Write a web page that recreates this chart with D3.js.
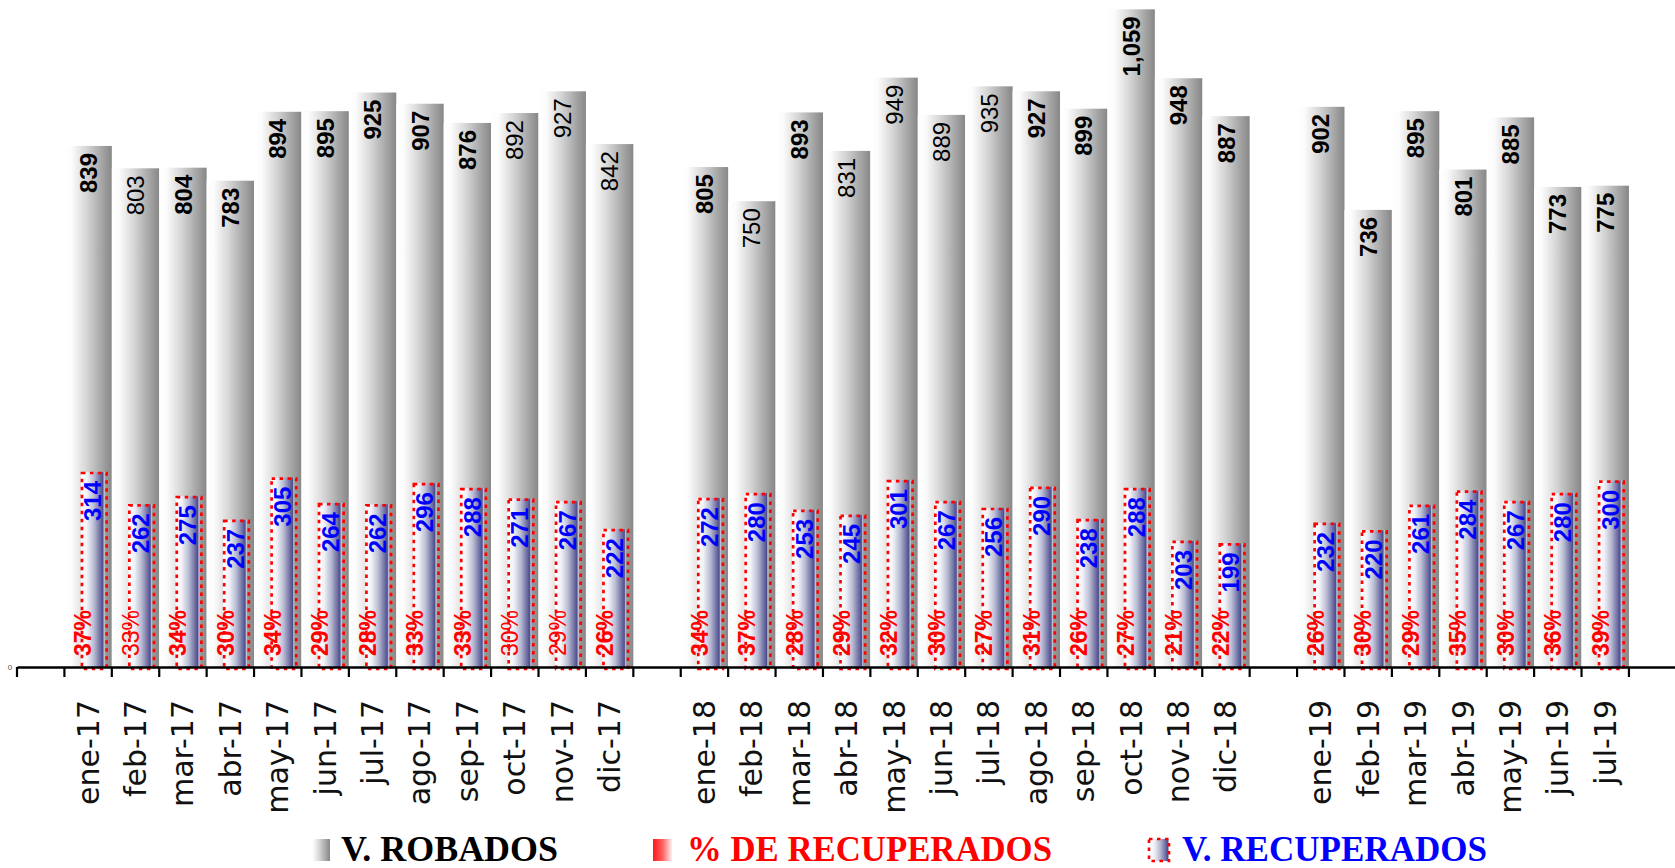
<!DOCTYPE html>
<html><head><meta charset="utf-8">
<script src="https://cdn.jsdelivr.net/npm/d3@7"></script>
<style>body{margin:0;background:#fff}svg{display:block}</style>
</head><body><svg id="c" width="1675" height="868"></svg>
<script>
// ---- data ----
const categories = ["",
  "ene-17","feb-17","mar-17","abr-17","may-17","jun-17","jul-17","ago-17","sep-17","oct-17","nov-17","dic-17","",
  "ene-18","feb-18","mar-18","abr-18","may-18","jun-18","jul-18","ago-18","sep-18","oct-18","nov-18","dic-18","",
  "ene-19","feb-19","mar-19","abr-19","may-19","jun-19","jul-19",""];
const robados = [null,
  839,803,804,783,894,895,925,907,876,892,927,842,null,
  805,750,893,831,949,889,935,927,899,1059,948,887,null,
  902,736,895,801,885,773,775,null];
const recuperados = [null,
  314,262,275,237,305,264,262,296,288,271,267,222,null,
  272,280,253,245,301,267,256,290,238,288,203,199,null,
  232,220,261,284,267,280,300,null];
const porcentaje = [null,
  37,33,34,30,34,29,28,33,33,30,29,26,null,
  34,37,28,29,32,30,27,31,26,27,21,22,null,
  26,30,29,35,30,36,39,null];
const legendLabels = ["V. ROBADOS","% DE RECUPERADOS","V. RECUPERADOS"];
const yTickLabels = [0];

// ---- style config (not data) ----
const regularRobados = new Set(["feb-17","oct-17","nov-17","dic-17","feb-18","abr-18","may-18","jun-18","jul-18"]);
const regularPct = new Set(["feb-17","oct-17","nov-17"]);
const SANS = "'Liberation Sans', Arial, Helvetica, sans-serif";

const svg = d3.select("#c");
const n = categories.length;
const x0 = 17, bw0 = 47.41;
const x = d3.scaleBand().domain(d3.range(n)).range([x0, x0 + n * bw0]).padding(0);
const y = d3.scaleLinear().domain([0, 1074]).range([667, 0]);
const bw = x.bandwidth();

const defs = svg.append("defs");
function grad(id, stops) {
  const g = defs.append("linearGradient").attr("id", id).attr("x1", 0).attr("x2", 1).attr("y1", 0).attr("y2", 0);
  stops.forEach(s => g.append("stop").attr("offset", s[0]).attr("stop-color", s[1]));
}
grad("gGrey", [[0,"#ffffff"],[0.15,"#fcfcfc"],[0.45,"#d8d8d8"],[0.8,"#a4a4a4"],[1,"#878787"]]);
grad("gBlue", [[0,"#ffffff"],[0.25,"#f2f3f8"],[0.55,"#b9bcd3"],[0.8,"#7475a6"],[0.93,"#4e4e8e"],[1,"#dfe0ee"]]);
grad("gRed", [[0,"#ff1a1a"],[0.5,"#ff6060"],[1,"#fff0f0"]]);

const idx = d3.range(n).filter(i => robados[i] != null);

// grey bars (V. ROBADOS)
svg.append("g").selectAll("rect").data(idx).join("rect")
  .attr("x", i => x(i)).attr("width", bw)
  .attr("y", i => y(robados[i])).attr("height", i => y(0) - y(robados[i]))
  .attr("fill", "url(#gGrey)");

// blue bars (V. RECUPERADOS)
svg.append("g").selectAll("rect").data(idx).join("rect")
  .attr("x", i => x(i) + 0.35 * bw).attr("width", 0.495 * bw)
  .attr("y", i => y(recuperados[i])).attr("height", i => y(0) - y(recuperados[i]))
  .attr("fill", "url(#gBlue)");

// grey value labels
const fmt = d3.format(",");
svg.append("g").selectAll("text").data(idx).join("text")
  .attr("transform", i => `translate(${x(i) + bw / 2},${y(robados[i]) + 7}) rotate(-90)`)
  .attr("dy", "0.36em").attr("text-anchor", "end")
  .style("font-family", SANS).style("font-size", "24px")
  .style("font-weight", i => regularRobados.has(categories[i]) ? "normal" : "bold")
  .style("fill", "#000").text(i => fmt(robados[i]));

// % labels
svg.append("g").selectAll("text").data(idx).join("text")
  .attr("transform", i => `translate(${x(i) + 0.395 * bw},${y(0) - 11}) rotate(-90)`)
  .attr("dy", "0.36em").attr("text-anchor", "start")
  .style("font-family", SANS).style("font-size", "23px")
  .style("font-weight", i => regularPct.has(categories[i]) ? "normal" : "bold")
  .style("fill", "#ff0000").text(i => porcentaje[i] + "%");

// blue value labels
svg.append("g").selectAll("text").data(idx).join("text")
  .attr("transform", i => `translate(${x(i) + 0.6 * bw},${y(recuperados[i]) + 9}) rotate(-90)`)
  .attr("dy", "0.36em").attr("text-anchor", "end")
  .style("font-family", SANS).style("font-size", "24px").style("font-weight", "bold")
  .style("fill", "#0000ff").text(i => recuperados[i]);

// red dotted borders
svg.append("g").selectAll("rect").data(idx).join("rect")
  .attr("x", i => x(i) + 0.37 * bw).attr("width", 0.52 * bw)
  .attr("y", i => y(recuperados[i]) + 1).attr("height", i => y(0) - y(recuperados[i]) + 1)
  .attr("fill", "none").attr("stroke", "#ff0000").attr("stroke-width", 2.7)
  .attr("stroke-dasharray", "3.5,4.5");

// x axis
const ax = svg.append("g").attr("transform", `translate(0,${y(0)})`)
  .call(d3.axisBottom(x).tickSize(0).tickSizeOuter(0).tickFormat(i => categories[i]));
ax.attr("font-size", null).attr("font-family", null);
ax.select(".domain").attr("stroke", "#000").attr("stroke-width", 2.6);
ax.selectAll(".tick text")
  .attr("transform", "rotate(-90)").attr("x", -33).attr("y", 0).attr("dy", "0.35em")
  .style("text-anchor", "end")
  .style("font-family", "'DejaVu Sans', Verdana, sans-serif").style("font-size", "30px")
  .style("fill", "#111");
// boundary ticks
ax.append("g").selectAll("line").data(d3.range(n)).join("line")
  .attr("x1", i => x(i)).attr("x2", i => x(i)).attr("y1", 0).attr("y2", 10)
  .attr("stroke", "#000").attr("stroke-width", 2.2);

// y axis tick label
svg.append("g").selectAll("text").data(yTickLabels).join("text")
  .attr("x", 10).attr("y", d => y(d) + 3).attr("text-anchor", "middle")
  .style("font-family", SANS).style("font-size", "8px")
  .style("fill", "#555").text(d => d);

// legend
const leg = svg.append("g");
const swY = 839, swH = 22, baseY = 861;
const legendItems = [
  {sx: 310, sw: 20, fill: "url(#gGrey)", tx: 341, tl: 217, color: "#000"},
  {sx: 653, sw: 19, fill: "url(#gRed)", tx: 687, tl: 365, color: "#ff0000"},
  {sx: 1149, sw: 20, fill: "url(#gBlue)", tx: 1182, tl: 305, color: "#0000ff", dotted: true}
];
legendItems.forEach((it, k) => {
  leg.append("rect").attr("x", it.sx).attr("y", swY).attr("width", it.sw).attr("height", swH).attr("fill", it.fill);
  if (it.dotted) {
    leg.append("rect").attr("x", it.sx).attr("y", swY).attr("width", it.sw).attr("height", swH)
      .attr("fill", "none").attr("stroke", "#ff0000").attr("stroke-width", 2.6).attr("stroke-dasharray", "3.5,4.5");
  }
  leg.append("text").attr("x", it.tx).attr("y", baseY)
    .style("font-family", "'Liberation Serif', 'Times New Roman', serif").style("font-weight", "bold")
    .style("font-size", "35px").style("fill", it.color)
    .attr("textLength", it.tl).attr("lengthAdjust", "spacingAndGlyphs")
    .text(legendLabels[k]);
});
</script>
</body></html>
